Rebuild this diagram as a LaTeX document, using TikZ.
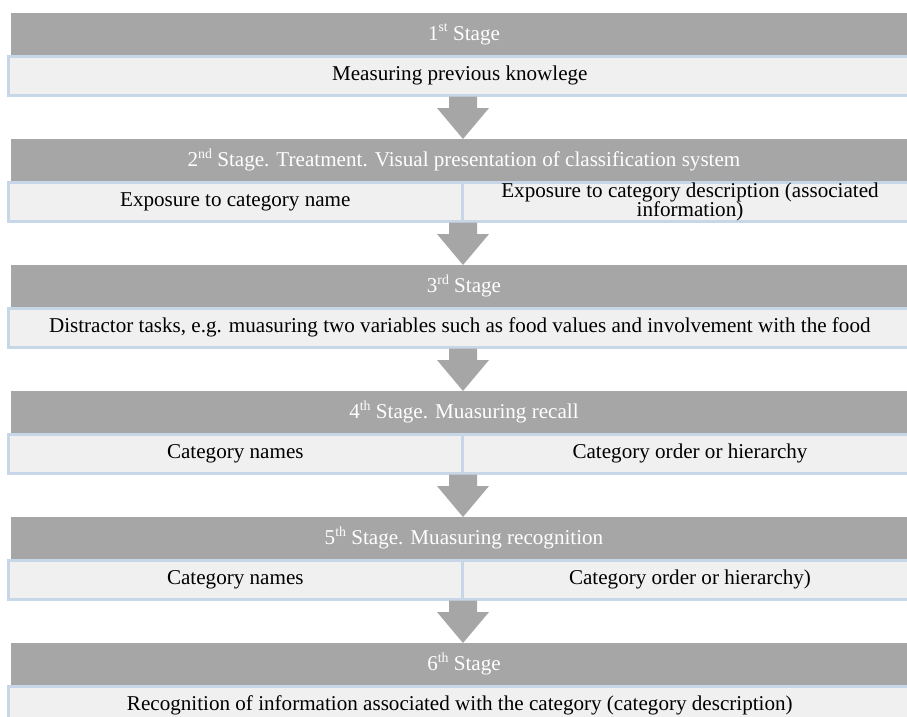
\documentclass[tikz,border=0pt]{standalone}
\usepackage{fontspec}
\setmainfont{Liberation Serif}
\usetikzlibrary{calc}
\definecolor{hdrgray}{RGB}{166,166,166}
\definecolor{cellfill}{RGB}{239,240,239}
\definecolor{cellline}{RGB}{200,215,232}
\newcommand\sps[1]{\raisebox{0.42em}{\fontsize{13.8}{13.8}\selectfont #1}}
\newcommand\flowarrow[2]{%
  \fill[arr] let \p1=(#1.south -| mid), \p2=(#2.north -| mid) in
    (\x1-14pt,\y1-1.3pt) -- (\x1+14pt,\y1-1.3pt) -- (\x1+14pt,\y2+31pt) -- (\x1+26pt,\y2+31pt)
    -- (\x2,\y2) -- (\x1-26pt,\y2+31pt) -- (\x1-14pt,\y2+31pt) -- cycle;}
\begin{document}
\begin{tikzpicture}[x=1pt,y=-1pt,
  hdr/.style={fill=hdrgray, draw=none, text=white, inner sep=0pt, outer sep=0pt,
    anchor=north west, minimum height=42pt, minimum width=906pt,
    font=\fontsize{21.1}{22}\selectfont},
  cellbox/.style={fill=cellfill, draw=cellline, line width=2.6pt, inner sep=0pt, outer sep=0pt,
    anchor=north west, minimum height=39pt, font=\fontsize{21.1}{20.5}\selectfont, align=center},
  full/.style={cellbox, minimum width=903pt},
  half/.style={cellbox, minimum width=454pt},
  arr/.style={fill=hdrgray, draw=none}]
\useasboundingbox (0,0) rectangle (907,716);
\coordinate (mid) at (463,0);
% stage 1
\node[hdr] (h1) at (11,13) {1\sps{st} Stage};
\node[full] (c1) at (8.3,56.3) {Measuring previous knowlege};
% stage 2
\node[hdr] (h2) at (11,139) {2\sps{nd} Stage. Treatment. Visual presentation of classification system};
\node[half] (c2a) at (8.3,182.3) {Exposure to category name};
\node[half] (c2b) at (463,182.3) {\raisebox{-2pt}{Exposure to category description (associated}\\[-1pt]\raisebox{-2pt}{information)}};
% stage 3
\node[hdr] (h3) at (11,265) {3\sps{rd} Stage};
\node[full] (c3) at (8.3,308.3) {Distractor tasks, e.g. muasuring two variables such as food values and involvement with the food};
% stage 4
\node[hdr] (h4) at (11,391) {4\sps{th} Stage. Muasuring recall};
\node[half] (c4a) at (8.3,434.3) {Category names};
\node[half] (c4b) at (463,434.3) {Category order or hierarchy};
% stage 5
\node[hdr] (h5) at (11,517) {5\sps{th} Stage. Muasuring recognition};
\node[half] (c5a) at (8.3,560.3) {Category names};
\node[half] (c5b) at (463,560.3) {Category order or hierarchy)};
% stage 6
\node[hdr] (h6) at (11,643) {6\sps{th} Stage};
\node[full] (c6) at (8.3,686.3) {Recognition of information associated with the category (category description)};
% arrows
\flowarrow{c1}{h2}
\flowarrow{c2a}{h3}
\flowarrow{c3}{h4}
\flowarrow{c4a}{h5}
\flowarrow{c5a}{h6}
\end{tikzpicture}
\end{document}
